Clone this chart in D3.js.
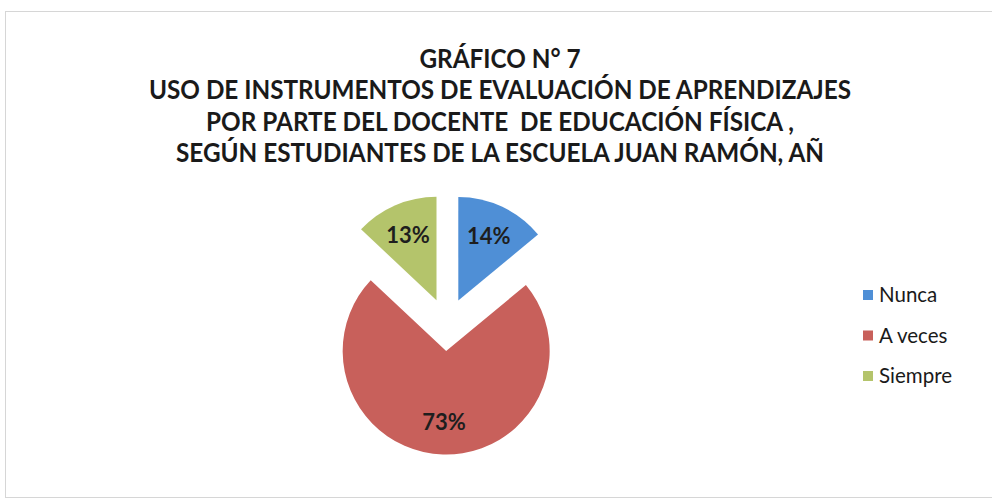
<!DOCTYPE html>
<html>
<head>
<meta charset="utf-8">
<script src="https://cdn.jsdelivr.net/npm/d3@7/dist/d3.min.js"></script>
<style>
  html, body { margin: 0; padding: 0; background: #ffffff; }
  svg { display: block; }
</style>
</head>
<body>
<svg id="chart" width="992" height="500"></svg>
<script>
// Responses per category (percent of students)
const categories = ["Nunca", "A veces", "Siempre"];
const shares = [14, 73, 13];
const sliceColors = ["#4f8fd6", "#c8605b", "#b4c46b"];
const titleLines = [
  "GRÁFICO N° 7",
  "USO DE INSTRUMENTOS DE EVALUACIÓN DE APRENDIZAJES",
  "POR PARTE DEL DOCENTE  DE EDUCACIÓN FÍSICA ,",
  "SEGÚN ESTUDIANTES DE LA ESCUELA JUAN RAMÓN, AÑ"
];

const svg = d3.select("#chart");
const W = 992, H = 500;
const FONT = "Lato, 'Open Sans', 'Noto Sans', sans-serif";

// Chart area frame
svg.append("rect")
  .attr("x", 5.5).attr("y", 11.5)
  .attr("width", W + 10).attr("height", 486)
  .attr("fill", "#ffffff")
  .attr("stroke", "#d6d6d6").attr("stroke-width", 1);

// Title block, centered; all lines share one horizontal scale factor
const title = svg.append("g").attr("class", "title");
const titleCx = 500;
const titleBaselines = [68, 99, 130.5, 162];
const titleTexts = title.selectAll("text")
  .data(titleLines)
  .join("text")
  .attr("x", titleCx)
  .attr("y", (d, i) => titleBaselines[i])
  .attr("text-anchor", "middle")
  .attr("font-family", FONT)
  .attr("font-weight", 700)
  .attr("font-size", 26)
  .attr("fill", "#1a1a1a")
  .attr("xml:space", "preserve")
  .style("white-space", "pre")
  .text(d => d);

const natural = titleTexts.nodes().map(n => n.getComputedTextLength());
const squeeze = 702 / natural[1];
titleTexts
  .attr("textLength", (d, i) => natural[i] * squeeze)
  .attr("lengthAdjust", "spacingAndGlyphs");

// Exploded pie
const cx = 447, cy = 324.5, radius = 103.5, explode = 26.5;
const pie = d3.pie().sort(null).value(d => d);
const arcs = pie(shares);
const arcGen = d3.arc().innerRadius(0).outerRadius(radius);
const labelArc = d3.arc().innerRadius(radius * 0.69).outerRadius(radius * 0.69);

const color = d3.scaleOrdinal().domain(categories).range(sliceColors);

const offset = a => {
  const mid = (a.startAngle + a.endAngle) / 2;
  return [Math.sin(mid) * explode, -Math.cos(mid) * explode];
};

const slices = svg.append("g")
  .attr("transform", `translate(${cx},${cy})`)
  .selectAll("g.slice")
  .data(arcs)
  .join("g")
  .attr("class", "slice")
  .attr("transform", a => `translate(${offset(a)[0]},${offset(a)[1]})`);

slices.append("path")
  .attr("d", arcGen)
  .attr("fill", (a, i) => color(categories[i]));

slices.append("text")
  .attr("transform", a => `translate(${labelArc.centroid(a)})`)
  .attr("text-anchor", "middle")
  .attr("dy", "0.36em")
  .attr("font-family", FONT)
  .attr("font-weight", 700)
  .attr("font-size", 22)
  .attr("fill", "#1e1e1e")
  .text(a => `${a.data}%`);

// Legend
const legendY = d3.scalePoint().domain(categories).range([295, 376]);
const legend = svg.append("g").attr("class", "legend")
  .selectAll("g")
  .data(categories)
  .join("g")
  .attr("transform", d => `translate(863,${legendY(d)})`);

legend.append("rect")
  .attr("x", 0).attr("y", -5)
  .attr("width", 10).attr("height", 10)
  .attr("fill", d => color(d));

legend.append("text")
  .attr("x", 16).attr("y", 0)
  .attr("dy", "0.35em")
  .attr("font-family", FONT)
  .attr("font-size", 20.5)
  .attr("fill", "#1a1a1a")
  .text(d => d);
</script>
</body>
</html>
